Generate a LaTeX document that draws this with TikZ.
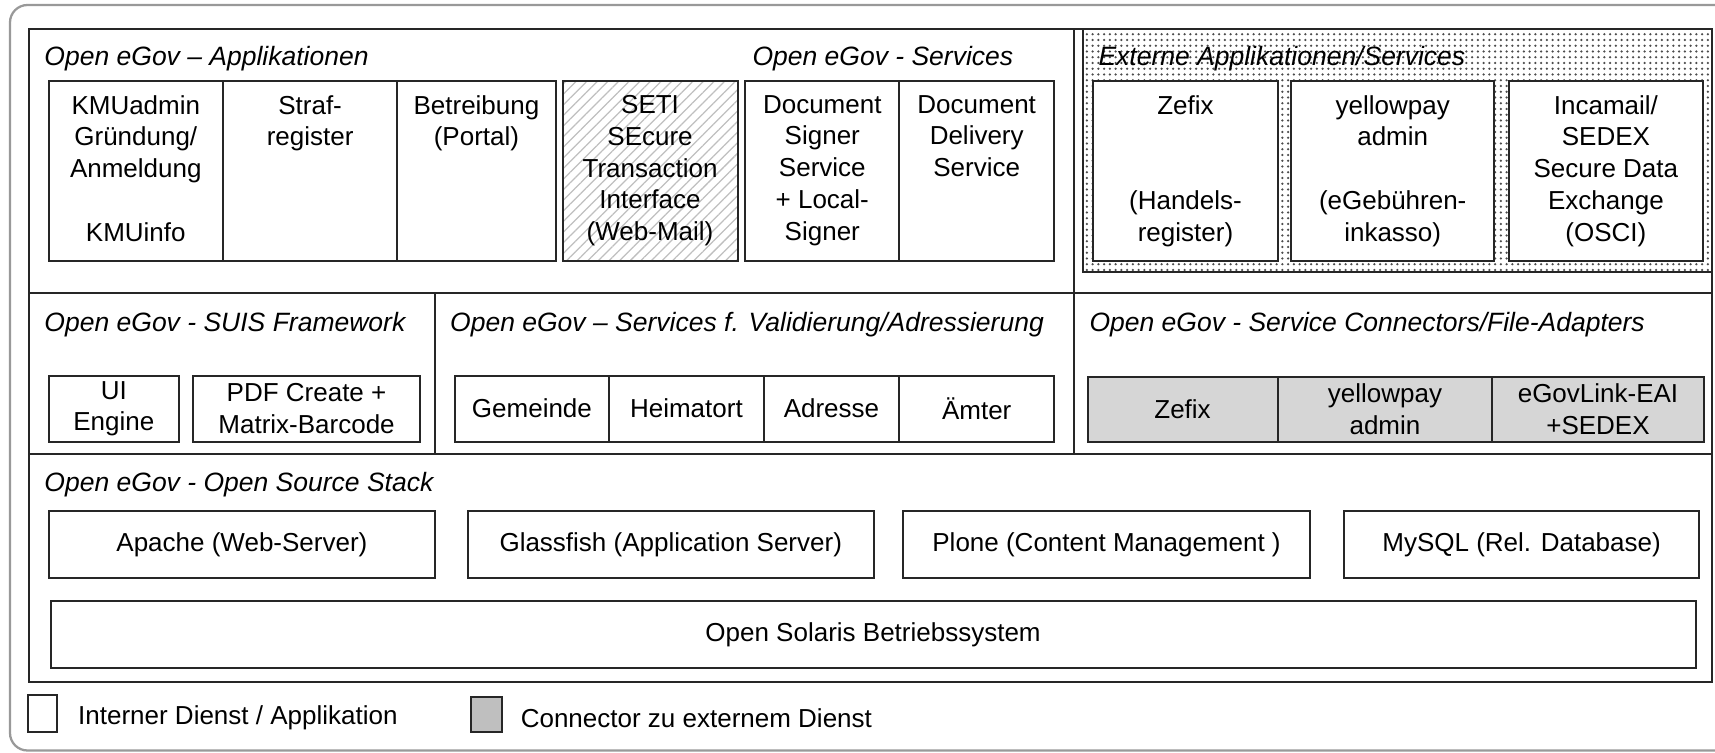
\documentclass[tikz,border=0pt]{standalone}
\usepackage{fontspec}
\setmainfont{Liberation Sans}
\usepackage{tikz}
\usetikzlibrary{positioning}
\usetikzlibrary{fit}
\usetikzlibrary{patterns.meta}

\tikzset{
    cell/.style = {draw = black!85, line width = 0.8pt, fill = white, inner sep = 0pt},
    region/.style = {draw = black!85, line width = 0.8pt, inner sep = 0pt},
    txt/.style = {align = center, inner sep = 0pt, font = \fontsize{10.4}{12.7}\selectfont},
    hdr/.style = {anchor = base west, inner sep = 0pt, font = \fontsize{10.6}{12.7}\selectfont\itshape},
    conn/.style = {cell, fill = black!16},
    hatch/.style = {cell, pattern = {Lines[angle = 45, distance = 3pt, line width = 0.5pt]}, pattern color = black!25},
    stipple/.style = {region, pattern = {Dots[distance = 2.3pt, radius = 0.5pt]}, pattern color = black!70},
    pageframe/.style = {draw = black!40, line width = 0.9pt, rounded corners = 7pt, inner sep = 0pt}
}

\begin{document}
\begin{tikzpicture} [x = 0.4pt, y = -0.4pt]
    \useasboundingbox (0,0) rectangle (1715,753);
    \clip (0,0) rectangle (1715,753);
    \node[pageframe, fit = {(10,5) (1740,750.5)}] (page) {};

    \node[region, fit = {(28.7,29) (1073.5,293.3)}] (rapp) {};
    \node[region, fit = {(1073.5,29) (1712,293.3)}] (rext) {};
    \node[region, fit = {(28.7,293.3) (435.1,454.3)}] (rsuis) {};
    \node[region, fit = {(435.1,293.3) (1073.5,454.3)}] (rval) {};
    \node[region, fit = {(1073.5,293.3) (1712,454.3)}] (rcon) {};
    \node[region, fit = {(28.7,454.3) (1712,681.7)}] (rstack) {};
    \node[stipple, fit = {(1083.2,29) (1712,271.7)}] (ext) {};

    \node[hdr] (happ) at (44,65) {Open eGov – Applikationen};
    \node[hdr] (hsrv) at (752,65) {Open eGov - Services};
    \node[hdr] (hext) at (1098,65) {Externe Applikationen/Services};
    \node[hdr] (hsuis) at (44,331.7) {Open eGov - SUIS Framework};
    \node[hdr] (hval) at (449.7,331.7) {Open eGov – Services f. Validierung/Adressierung};
    \node[hdr] (hcon) at (1089,331.7) {Open eGov - Service Connectors/File-Adapters};
    \node[hdr] (hstack) at (44,491.7) {Open eGov - Open Source Stack};

    \node[cell, fit = {(48.6,80.7) (223,261)}] (kmu) {};
    \node[cell, fit = {(223,80.7) (397.2,261)}] (straf) {};
    \node[cell, fit = {(397.2,80.7) (555.7,261)}] (betr) {};
    \node[hatch, fit = {(562.6,80.7) (737.5,261)}] (seti) {};
    \node[cell, fit = {(745.2,80.7) (899.4,261)}] (signer) {};
    \node[cell, fit = {(899.4,80.7) (1054,261)}] (delivery) {};
    \node[cell, fit = {(1093.4,80.7) (1277.6,261)}] (zefix) {};
    \node[cell, fit = {(1291.4,80.7) (1494,261)}] (ypay) {};
    \node[cell, fit = {(1509.3,80.7) (1702.5,261)}] (inca) {};

    \node[txt, below = 6pt of kmu.north] (kmut) {KMUadmin\\Gründung/\\Anmeldung\\[12.7pt]KMUinfo};
    \node[txt, below = 6pt of straf.north] (straft) {Straf-\\register};
    \node[txt, below = 6pt of betr.north] (betrt) {Betreibung\\(Portal)};
    \node[txt, below = 6pt of seti.north] (setit) {SETI\\SEcure\\Transaction\\Interface\\(Web-Mail)};
    \node[txt, below = 6pt of signer.north] (signert) {Document\\Signer\\Service\\+ Local-\\Signer};
    \node[txt, below = 6pt of delivery.north] (deliveryt) {Document\\Delivery\\Service};
    \node[txt, below = 6pt of zefix.north] (zefixt) {Zefix\\[25.4pt](Handels-\\register)};
    \node[txt, below = 6pt of ypay.north] (ypayt) {yellowpay\\admin\\[12.7pt](eGebühren-\\inkasso)};
    \node[txt, below = 6pt of inca.north] (incat) {Incamail/\\SEDEX\\Secure Data\\Exchange\\(OSCI)};

    \node[cell, fit = {(48.6,375.7) (179.1,441.7)}] (ui) {};
    \node[cell, fit = {(193.3,375.7) (419.8,441.7)}] (pdf) {};
    \node[cell, fit = {(454.6,375.7) (609.3,441.7)}] (gem) {};
    \node[cell, fit = {(609.3,375.7) (763.5,441.7)}] (heim) {};
    \node[cell, fit = {(763.5,375.7) (899.4,441.7)}] (adr) {};
    \node[cell, fit = {(899.4,375.7) (1054,441.7)}] (aemt) {};
    \node[conn, fit = {(1087.5,377) (1277.6,441.7)}] (czefix) {};
    \node[conn, fit = {(1277.6,377) (1492.3,441.7)}] (cypay) {};
    \node[conn, fit = {(1492.3,377) (1703.7,441.7)}] (clink) {};
    \node[txt] (uit) at (ui.center) {UI\\Engine};
    \node[txt] (pdft) at (pdf.center) {PDF Create +\\Matrix-Barcode};
    \node[txt] (gemt) at (gem.center) {Gemeinde};
    \node[txt] (heimt) at (heim.center) {Heimatort};
    \node[txt] (adrt) at (adr.center) {Adresse};
    \node[txt] (aemtt) at (aemt.center) {Ämter};
    \node[txt] (czefixt) at (czefix.center) {Zefix};
    \node[txt] (cypayt) at (cypay.center) {yellowpay\\admin};
    \node[txt] (clinkt) at (clink.center) {eGovLink-EAI\\+SEDEX};

    \node[cell, fit = {(48.7,511) (435.1,577.7)}] (apache) {};
    \node[cell, fit = {(467.8,511) (873.7,577.7)}] (glass) {};
    \node[cell, fit = {(903.4,511) (1309.7,577.7)}] (plone) {};
    \node[cell, fit = {(1343.8,511) (1699.4,577.7)}] (mysql) {};
    \node[cell, fit = {(50.5,601) (1695.6,667.7)}] (solaris) {};
    \node[txt] (apachet) at (apache.center) {Apache (Web-Server)};
    \node[txt] (glasst) at (glass.center) {Glassfish (Application Server)};
    \node[txt] (plonet) at (plone.center) {Plone (Content Management )};
    \node[txt] (mysqlt) at (mysql.center) {MySQL (Rel. Database)};
    \node[txt] (solarist) at (solaris.center) {Open Solaris Betriebssystem};

    \node[cell, fit = {(28,695) (57.2,732)}] (lint) {};
    \node[txt, right = 7.8pt of lint, yshift = -1.8pt] (lintt) {Interner Dienst / Applikation};
    \node[cell, fill = black!25, fit = {(470.7,697.3) (501.8,732.3)}] (lcon) {};
    \node[txt, right = 7pt of lcon, yshift = -1.5pt] (lcont) {Connector zu externem Dienst};
\end{tikzpicture}
\end{document}
